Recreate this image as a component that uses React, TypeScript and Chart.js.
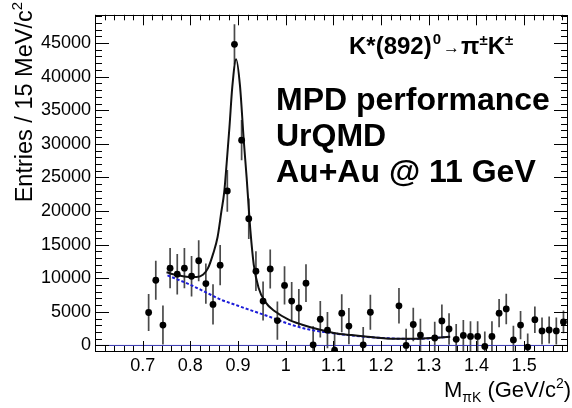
import React, { useEffect, useRef } from 'react';
import { Chart, registerables } from 'chart.js';

Chart.register(...registerables);

// Invariant mass bin centres (GeV/c^2), 15 MeV bins
const masses = [
  0.7125, 0.7275, 0.7425, 0.7575, 0.7725, 0.7875, 0.8025, 0.8175, 0.8325, 0.8475,
  0.8625, 0.8775, 0.8925, 0.9075, 0.9225, 0.9375, 0.9525, 0.9675, 0.9825, 0.9975,
  1.0125, 1.0275, 1.0425, 1.0575, 1.0725, 1.0875, 1.1025, 1.1175, 1.1325, 1.1625,
  1.1775, 1.2375, 1.2525, 1.2675, 1.2825, 1.3125, 1.3275, 1.3425, 1.3575, 1.3725,
  1.3875, 1.4025, 1.4175, 1.4325, 1.4475, 1.4625, 1.4775, 1.4925, 1.5075, 1.5225,
  1.5375, 1.5525, 1.5675, 1.5825,
];
const entries = [
  4900, 9700, 3030, 11500, 10600, 11500, 10300, 12600, 9200, 6100,
  11950, 23000, 44800, 30550, 18850, 11050, 6600, 11380, 3700, 8930,
  6600, 5570, 9270, 100, 3900, 2280, -700, 4800, 2880, 100,
  4940, 5900, 0, 3120, 1540, 1110, 3650, 2450, 910, 1490,
  1340, 1340, -140, 1340, 4800, 5430, 820, 3030, -240, 3840,
  2160, 2300, 2160, 3500,
];
const errors = [
  2750, 2900, 2900, 3000, 3000, 3000, 3000, 3050, 3000, 3000,
  3000, 3100, 3000, 3000, 3000, 2950, 2900, 2900, 2850, 2850,
  2850, 2830, 2800, 2750, 2700, 2700, 2700, 2830, 2700, 2650,
  2600, 2640, 2500, 2500, 2450, 2400, 2450, 2350, 2300, 2300,
  2250, 2250, 2200, 2250, 2100, 2280, 2100, 2100, 2000, 1970,
  2000, 2000, 2000, 1700,
];

// Signal + background fit
const fitMass = [
  0.75, 0.766, 0.782, 0.797, 0.813, 0.827, 0.837, 0.848, 0.857, 0.865,
  0.871, 0.876, 0.882, 0.888, 0.896, 0.904, 0.912, 0.918, 0.922, 0.926,
  0.933, 0.943, 0.957, 0.978, 1.006, 1.033, 1.068, 1.103, 1.138, 1.172,
  1.228, 1.283, 1.325, 1.345,
];
const fitValues = [
  10900, 10560, 10330, 10200, 10200, 10560, 11500, 13700, 16100, 19900,
  22800, 27000, 32500, 38500, 42600, 38700, 30500, 25000, 20900, 17000,
  12000, 8600, 6480, 5040, 3840, 3120, 2400, 1830, 1540, 1300,
  1000, 1010, 1200, 1300,
];

// Background fit component
const bgMass = [0.752, 0.797, 0.832, 0.867, 0.88, 0.9, 0.92, 0.964, 1.006, 1.047, 1.089, 1.13, 1.172, 1.22, 1.262, 1.3, 1.345];
const bgValues = [10420, 9120, 7920, 6720, 6400, 5900, 5400, 4320, 3210, 2400, 1920, 1540, 1250, 1050, 970, 1050, 1300];

const xTickValues = [0.7, 0.8, 0.9, 1.0, 1.1, 1.2, 1.3, 1.4, 1.5];
const yTickValues = [0, 5000, 10000, 15000, 20000, 25000, 30000, 35000, 40000, 45000];

const X_MIN = 0.6;
const X_MAX = 1.592;
const Y_MIN = -900;
const Y_MAX = 49200;

const FONT = '"Liberation Sans", Arial, Helvetica, sans-serif';

type Run = { text: string; size: number; bold?: boolean; dy?: number; gap?: number };

function runsWidth(ctx: CanvasRenderingContext2D, runs: Run[]) {
  let w = 0;
  for (const r of runs) {
    ctx.font = `${r.bold ? 'bold ' : ''}${r.size}px ${FONT}`;
    w += ctx.measureText(r.text).width + (r.gap || 0);
  }
  return w;
}

function drawRuns(ctx: CanvasRenderingContext2D, x: number, y: number, runs: Run[]) {
  let cx = x;
  for (const r of runs) {
    ctx.font = `${r.bold ? 'bold ' : ''}${r.size}px ${FONT}`;
    ctx.fillText(r.text, cx, y + (r.dy || 0));
    cx += ctx.measureText(r.text).width + (r.gap || 0);
  }
}

const errorBarPlugin = {
  id: 'errorBars',
  beforeDatasetsDraw(chart: any) {
    const { ctx, chartArea } = chart;
    const xs = chart.scales.x;
    const ys = chart.scales.y;
    ctx.save();
    ctx.beginPath();
    ctx.rect(chartArea.left, chartArea.top, chartArea.right - chartArea.left, chartArea.bottom - chartArea.top);
    ctx.clip();
    ctx.strokeStyle = '#4a4a4a';
    ctx.lineWidth = 1.7;
    for (let i = 0; i < masses.length; i++) {
      const x = xs.getPixelForValue(masses[i]);
      const y1 = ys.getPixelForValue(entries[i] - errors[i]);
      const y2 = ys.getPixelForValue(entries[i] + errors[i]);
      ctx.beginPath();
      ctx.moveTo(x, y1);
      ctx.lineTo(x, y2);
      ctx.stroke();
    }
    ctx.restore();
  },
};

const framePlugin = {
  id: 'rootFrame',
  afterDraw(chart: any) {
    const { ctx, chartArea } = chart;
    const { left, right, top, bottom } = chartArea;
    const xs = chart.scales.x;
    const ys = chart.scales.y;
    ctx.save();
    ctx.strokeStyle = '#000';
    ctx.lineWidth = 1;
    ctx.strokeRect(Math.round(left) + 0.5, Math.round(top) + 0.5, Math.round(right - left) - 1, Math.round(bottom - top) - 1);
    // x ticks
    const xMajorLen = 10.5;
    const xMinorLen = 5.5;
    for (let i = 0; i <= 60; i++) {
      const v = 0.6 + 0.02 * i;
      if (v > X_MAX + 1e-9) break;
      const px = Math.round(xs.getPixelForValue(v)) + 0.5;
      const len = i % 5 === 0 ? xMajorLen : xMinorLen;
      ctx.beginPath();
      ctx.moveTo(px, bottom);
      ctx.lineTo(px, bottom - len);
      ctx.moveTo(px, top);
      ctx.lineTo(px, top + len);
      ctx.stroke();
    }
    // y ticks
    const yMajorLen = 14;
    const yMinorLen = 7;
    for (let i = 0; i <= 60; i++) {
      const v = 1000 * i;
      if (v > Y_MAX) break;
      const py = Math.round(ys.getPixelForValue(v)) + 0.5;
      const len = i % 5 === 0 ? yMajorLen : yMinorLen;
      ctx.beginPath();
      ctx.moveTo(left, py);
      ctx.lineTo(left + len, py);
      ctx.moveTo(right, py);
      ctx.lineTo(right - len, py);
      ctx.stroke();
    }

    // Texts
    ctx.fillStyle = '#000';
    ctx.textBaseline = 'alphabetic';
    ctx.textAlign = 'left';

    // Decay channel
    drawRuns(ctx, 349, 54, [
      { text: 'K*(892)', size: 24, bold: true, gap: 1 },
      { text: '0', size: 15, bold: true, dy: -10, gap: 2 },
      { text: '\u2192', size: 17, dy: -1, gap: 1 },
      { text: '\u03c0', size: 24, bold: true },
      { text: '\u00b1', size: 15, bold: true, dy: -9 },
      { text: 'K', size: 24, bold: true },
      { text: '\u00b1', size: 15, bold: true, dy: -9 },
    ]);

    ctx.font = `bold 32px ${FONT}`;
    ctx.fillText('MPD performance', 276, 110);
    ctx.fillText('UrQMD', 276, 146);
    ctx.fillText('Au+Au @ 11 GeV', 276, 182);

    // X axis title
    const xRuns: Run[] = [
      { text: 'M', size: 22 },
      { text: '\u03c0K', size: 14, dy: 5 },
      { text: ' (GeV/c', size: 22 },
      { text: '2', size: 14, dy: -9 },
      { text: ')', size: 22 },
    ];
    const xw = runsWidth(ctx, xRuns);
    drawRuns(ctx, 571 - xw, 397, xRuns);

    // Y axis title (rotated)
    const yRuns: Run[] = [
      { text: 'Entries / 15 MeV/c', size: 23.5 },
      { text: '2', size: 15, dy: -10 },
    ];
    const yw = runsWidth(ctx, yRuns);
    ctx.translate(32, 2);
    ctx.rotate(-Math.PI / 2);
    drawRuns(ctx, -yw, 0, yRuns);
    ctx.restore();
  },
};

export default function App() {
  const canvasRef = useRef<HTMLCanvasElement | null>(null);

  useEffect(() => {
    if (!canvasRef.current) return;
    const chart = new Chart(canvasRef.current, {
      type: 'scatter',
      data: {
        datasets: [
          {
            label: 'data',
            data: masses.map((m, i) => ({ x: m, y: entries[i] })),
            pointRadius: 3.4,
            pointBackgroundColor: '#000',
            pointBorderColor: '#000',
            pointBorderWidth: 0,
            showLine: false,
            order: 0,
          },
          {
            label: 'fit',
            data: fitMass.map((m, i) => ({ x: m, y: fitValues[i] })),
            showLine: true,
            pointRadius: 0,
            borderColor: '#111',
            borderWidth: 2,
            cubicInterpolationMode: 'monotone',
            order: 1,
          },
          {
            label: 'background',
            data: bgMass.map((m, i) => ({ x: m, y: bgValues[i] })),
            showLine: true,
            pointRadius: 0,
            borderColor: '#1c1cd8',
            borderWidth: 2,
            borderDash: [3, 2],
            cubicInterpolationMode: 'monotone',
            order: 2,
          },
          {
            label: 'zero',
            data: [
              { x: X_MIN, y: 0 },
              { x: X_MAX, y: 0 },
            ],
            showLine: true,
            pointRadius: 0,
            borderColor: '#3535b0',
            borderWidth: 1,
            order: 3,
          },
        ] as any,
      },
      options: {
        responsive: false,
        animation: false,
        events: [],
        layout: { padding: { top: 4, right: 1, left: 0, bottom: 0 } },
        plugins: {
          legend: { display: false },
          tooltip: { enabled: false },
        },
        scales: {
          x: {
            type: 'linear',
            min: X_MIN,
            max: X_MAX,
            grid: { display: false, drawTicks: false },
            border: { display: false },
            afterBuildTicks: (s: any) => {
              s.ticks = xTickValues.map((v) => ({ value: v }));
            },
            afterFit: (s: any) => {
              s.height = 56.5;
            },
            ticks: {
              color: '#000',
              padding: 4,
              maxRotation: 0,
              autoSkip: false,
              font: { family: FONT, size: 18 },
              callback: (v: any) => String(Math.round(Number(v) * 10) / 10),
            },
          },
          y: {
            type: 'linear',
            min: Y_MIN,
            max: Y_MAX,
            grid: { display: false, drawTicks: false },
            border: { display: false },
            afterBuildTicks: (s: any) => {
              s.ticks = yTickValues.map((v) => ({ value: v }));
            },
            afterFit: (s: any) => {
              s.width = 95;
            },
            ticks: {
              color: '#000',
              padding: 4,
              autoSkip: false,
              font: { family: FONT, size: 18 },
              callback: (v: any) => String(v),
            },
          },
        },
      } as any,
      plugins: [errorBarPlugin, framePlugin],
    });
    return () => chart.destroy();
  }, []);

  return (
    <div style={{ position: 'absolute', left: 0, top: 0, width: 572, height: 408, background: '#fff' }}>
      <canvas ref={canvasRef} width={572} height={408} style={{ display: 'block' }} />
    </div>
  );
}
